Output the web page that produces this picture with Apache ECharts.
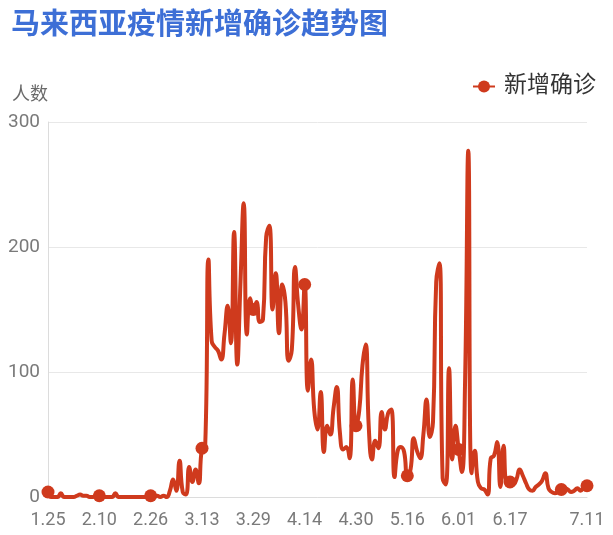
<!DOCTYPE html>
<html>
<head>
<meta charset="utf-8">
<script src="https://cdn.jsdelivr.net/npm/echarts@6/dist/echarts.min.js"></script>
<style>
html,body{margin:0;padding:0;background:#fff;}
#chart{width:613px;height:535px;}
</style>
</head>
<body>
<div id="chart"></div>
<script>
// Categories (M.DD)
var dates = [
  '1.25','1.26','1.27','1.28','1.29','1.30','1.31',
  '2.01','2.02','2.03','2.04','2.05','2.06','2.07','2.08','2.09','2.10','2.11','2.12','2.13','2.14','2.15','2.16','2.17','2.18','2.19','2.20','2.21','2.22','2.23','2.24','2.25','2.26','2.27','2.28','2.29',
  '3.01','3.02','3.03','3.04','3.05','3.06','3.07','3.08','3.09','3.10','3.11','3.12','3.13','3.14','3.15','3.16','3.17','3.18','3.19','3.20','3.21','3.22','3.23','3.24','3.25','3.26','3.27','3.28','3.29','3.30','3.31',
  '4.01','4.02','4.03','4.04','4.05','4.06','4.07','4.08','4.09','4.10','4.11','4.12','4.13','4.14','4.15','4.16','4.17','4.18','4.19','4.20','4.21','4.22','4.23','4.24','4.25','4.26','4.27','4.28','4.29','4.30',
  '5.01','5.02','5.03','5.04','5.05','5.06','5.07','5.08','5.09','5.10','5.11','5.12','5.13','5.14','5.15','5.16','5.17','5.18','5.19','5.20','5.21','5.22','5.23','5.24','5.25','5.26','5.27','5.28','5.29','5.30','5.31',
  '6.01','6.02','6.03','6.04','6.05','6.06','6.07','6.08','6.09','6.10','6.11','6.12','6.13','6.14','6.15','6.16','6.17','6.18','6.19','6.20','6.21','6.22','6.23','6.24','6.25','6.26','6.27','6.28','6.29','6.30',
  '7.01','7.02','7.03','7.04','7.05','7.06','7.07','7.08','7.09','7.10','7.11'
];

// Daily new confirmed cases
var valuesJan = [4,0,0,0,3,0,0];
var valuesFeb = [0,0,1,2,1,1,0,0,1,1,0,0,0,0,3,0,0,0,0,0,0,0,0,0,0,1,0,1,0];
var valuesMar = [1,0,5,14,5,29,4,2,24,12,22,11,39,41,190,125,120,117,110,130,153,123,212,106,172,235,130,159,150,156,140];
var valuesApr = [142,208,217,150,179,131,170,156,109,118,184,153,134,170,85,110,69,54,84,36,57,50,71,88,51,38,40,31,94,57];
var valuesMay = [69,105,122,55,30,45,39,68,54,67,70,16,37,40,36,17,22,47,37,31,50,78,48,60,172,187,15,10,103,30,57];
var valuesJun = [38,20,93,277,19,37,12,7,6,2,31,33,44,8,41,12,12,10,14,22,17,11,6,5,8,10,13,19,7,4];
var valuesJul = [3,4,6,7,6,4,5,7,5,8,9];

var seriesName = '新增确诊';
var titleText = '马来西亚疫情新增确诊趋势图';
var yAxisName = '人数';
var yTicks = [0, 100, 200, 300];

var values = [].concat(valuesJan, valuesFeb, valuesMar, valuesApr, valuesMay, valuesJun, valuesJul);
var lastIdx = dates.length - 1;
var step = 16;

var FONT = 'Roboto, "Noto Sans CJK SC", sans-serif';
var RED = '#cf3a1d';

var chart = echarts.init(document.getElementById('chart'), null, {renderer: 'canvas'});
chart.setOption({
  animation: false,
  backgroundColor: '#fff',
  title: {
    text: titleText,
    left: 6,
    top: 7,
    textStyle: {fontSize: 29, fontWeight: 'bold', color: '#3d6fd6', fontFamily: FONT}
  },
  legend: {
    data: [seriesName],
    right: 12,
    top: 70,
    itemWidth: 22,
    itemHeight: 15,
    itemGap: 10,
    textStyle: {fontSize: 23, color: '#333', fontFamily: FONT, padding: [0, 0, 0, 4]}
  },
  grid: {left: 48, right: 26, top: 122, bottom: 38, containLabel: false},
  xAxis: {
    type: 'category',
    data: dates,
    boundaryGap: false,
    axisLine: {lineStyle: {color: '#dcdcdc'}},
    axisTick: {show: false},
    axisLabel: {
      interval: function (i) { return (i % step === 0 && i <= lastIdx - 16) || i === lastIdx; },
      margin: 15,
      fontSize: 18,
      color: '#7a7a7a',
      fontFamily: FONT
    },
    splitLine: {show: false}
  },
  yAxis: {
    type: 'value',
    min: yTicks[0],
    max: yTicks[yTicks.length - 1],
    interval: yTicks[1] - yTicks[0],
    name: yAxisName,
    nameLocation: 'end',
    nameGap: 18,
    nameTextStyle: {fontSize: 18, color: '#6a6a6a', align: 'right', fontFamily: FONT},
    axisLine: {show: true, lineStyle: {color: '#dcdcdc'}},
    axisTick: {show: false},
    axisLabel: {fontSize: 19, color: '#7a7a7a', margin: 8, fontFamily: FONT},
    splitLine: {lineStyle: {color: '#e8e8e8'}}
  },
  series: [{
    name: seriesName,
    type: 'line',
    data: values,
    smooth: true,
    symbol: 'circle',
    showSymbol: true,
    showAllSymbol: true,
    symbolSize: function (v, p) {
      var i = p.dataIndex;
      return (i % step === 0 || i === lastIdx) ? 13 : 0;
    },
    itemStyle: {color: RED},
    lineStyle: {color: RED, width: 4}
  }]
});
</script>
</body>
</html>
